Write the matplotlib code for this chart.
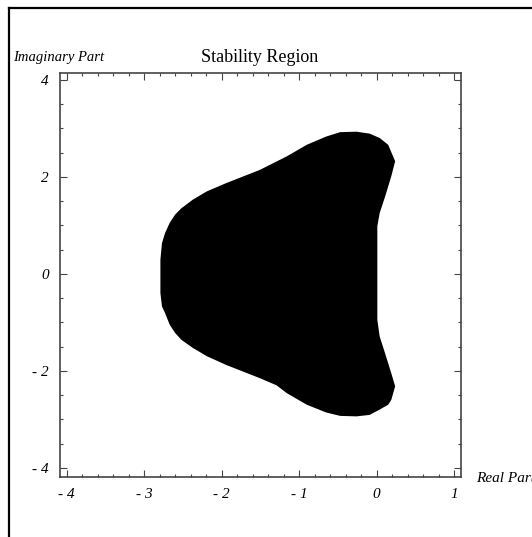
import numpy as np
import matplotlib
matplotlib.use("Agg")
import matplotlib.pyplot as plt
from matplotlib.lines import Line2D
from matplotlib.ticker import MultipleLocator, FixedLocator

# boundary of the stability region (real, imaginary), traced around
re_part = [-2.79, -2.77, -2.73, -2.67, -2.60, -2.52, -2.37, -2.19, -1.94, -1.51, -1.16,
           -0.90, -0.65, -0.47, -0.26, -0.09, 0.04, 0.15, 0.24, 0.19, 0.11, 0.04, 0.01,
           0.01, 0.04, 0.11, 0.19, 0.24, 0.19, 0.15, 0.04, -0.09, -0.26, -0.47, -0.65,
           -0.90, -1.16, -1.29, -1.51, -1.94, -2.19, -2.37, -2.52, -2.60, -2.67, -2.73,
           -2.77, -2.79]
im_part = [0.29, 0.63, 0.84, 1.05, 1.22, 1.35, 1.53, 1.70, 1.87, 2.14, 2.42,
           2.66, 2.83, 2.92, 2.93, 2.89, 2.80, 2.66, 2.32, 2.01, 1.59, 1.25, 0.98,
           -0.95, -1.29, -1.64, -2.05, -2.32, -2.60, -2.70, -2.80, -2.91, -2.94, -2.93, -2.86,
           -2.70, -2.46, -2.30, -2.15, -1.88, -1.70, -1.53, -1.36, -1.22, -1.05, -0.81,
           -0.67, -0.40]

x_ticks = [-4, -3, -2, -1, 0, 1]
x_labels = ["- 4", "- 3", "- 2", "- 1", "0", "1"]
y_ticks = [-4, -2, 0, 2, 4]
y_labels = ["- 4", "- 2", "0", "2", "4"]

serif = ["Liberation Serif", "DejaVu Serif"]

fig = plt.figure(figsize=(5.32, 5.37), dpi=100)
ax = fig.add_axes([60 / 532, 60 / 537, 401 / 532, 404 / 537])

ax.fill(re_part, im_part, color="black", lw=0)
ax.set_xlim(-4.086, 1.09)
ax.set_ylim(-4.19, 4.14)

ax.xaxis.set_major_locator(FixedLocator(x_ticks))
ax.yaxis.set_major_locator(FixedLocator(y_ticks))
ax.xaxis.set_minor_locator(MultipleLocator(0.2))
ax.yaxis.set_minor_locator(MultipleLocator(0.5))
ax.set_xticklabels(x_labels, family=serif, style="italic", fontsize=11)
ax.set_yticklabels(y_labels, family=serif, style="italic", fontsize=11)
ax.tick_params(which="both", direction="in", top=True, right=True, color="#444444", width=0.8)
ax.tick_params(which="major", length=5, pad=8)
ax.tick_params(which="minor", length=2.5)
for s in ax.spines.values():
    s.set_color("#444444")
    s.set_linewidth(1.2)

fig.text(260 / 532, 1 - 57 / 537, "Stability Region", family=serif, fontsize=13,
         ha="center", va="center")
fig.text(13 / 532, 1 - 57 / 537, "Imaginary Part", family=serif, style="italic",
         fontsize=10.5, ha="left", va="center")
fig.text(476 / 532, 1 - 478 / 537, "Real Part", family=serif, style="italic",
         fontsize=11, ha="left", va="center")

# outer border of the original graphic (only left and top visible)
fig.add_artist(Line2D([8.5 / 532, 8.5 / 532], [0, 1 - 7.5 / 537], color="black", lw=1.6,
                      transform=fig.transFigure))
fig.add_artist(Line2D([8.5 / 532, 1], [1 - 7.5 / 537, 1 - 7.5 / 537], color="black", lw=1.6,
                      transform=fig.transFigure))

fig.savefig("out.png", dpi=100)
